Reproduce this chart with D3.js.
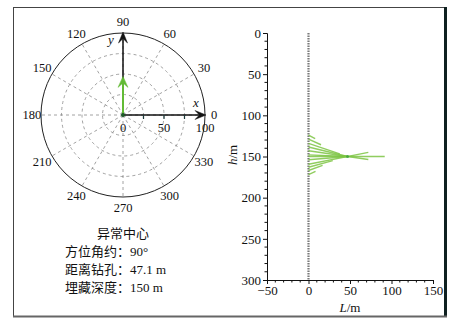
<!DOCTYPE html>
<html><head><meta charset="utf-8">
<script src="https://cdn.jsdelivr.net/npm/d3@7"></script>
<style>
html,body{margin:0;padding:0;background:#fff;}
svg{display:block;}
text{font-family:"Liberation Serif","Noto Sans CJK SC",serif;fill:#111;}
</style></head>
<body><svg id="c" width="468" height="330"></svg>
<script>
// ---- data ----
const angleLabels = [0,30,60,90,120,150,180,210,240,270,300,330];
const radialLabels = [0,50,100];
const radialTicks = [25,50,75];
const gridRadii = [25,50,75];
const anomalyAzimuth = 90;
const anomalyDistance = 47.1;
const anomalyDepth = 150;
const infoTitle = "异常中心";
const infoLines = ["方位角约：90°","距离钻孔：47.1 m","埋藏深度：150 m"];
const depthTicks = [0,50,100,150,200,250,300];
const lTicks = [-50,0,50,100,150];
const rayStartDepths = [124,129,134,138.5,143,148,150,154,159.4,163,167,172];
const rayReach =       [0.17,0.32,0.8,1.0,1.53,1.0,1.95,1.0,1.53,0.62,0.36,0.18];

const svg = d3.select("#c");
const fontSerif = '"Liberation Serif","Noto Sans CJK SC",serif';

// ---- frame ----
svg.append("rect").attr("x",13.5).attr("y",7.5).attr("width",432).attr("height",309)
  .attr("fill","none").attr("stroke","#444").attr("stroke-width",1);
svg.append("line").attr("x1",445.5).attr("x2",445.5).attr("y1",7).attr("y2",317)
  .attr("stroke","#0f2020").attr("stroke-width",3);
svg.append("line").attr("x1",13).attr("x2",447).attr("y1",316.5).attr("y2",316.5)
  .attr("stroke","#666").attr("stroke-width",2);

// ---- polar chart ----
const cx = 123, cy = 115;
const r = d3.scaleLinear().domain([0,100]).range([0,82]);
const pol = (deg, rad) => [cx + r(rad)*Math.cos(deg*Math.PI/180), cy - r(rad)*Math.sin(deg*Math.PI/180)];
const pg = svg.append("g");

pg.selectAll("circle.grid").data(gridRadii).join("circle")
  .attr("cx",cx).attr("cy",cy).attr("r",d=>r(d))
  .attr("fill","none").attr("stroke","#8a8a8a").attr("stroke-width",0.8).attr("stroke-dasharray","3,3");
pg.selectAll("line.spoke").data(angleLabels).join("line")
  .attr("x1",cx).attr("y1",cy)
  .attr("x2",d=>pol(d,100)[0]).attr("y2",d=>pol(d,100)[1])
  .attr("stroke","#8a8a8a").attr("stroke-width",0.8).attr("stroke-dasharray","3,3");
pg.append("circle").attr("cx",cx).attr("cy",cy).attr("r",r(100))
  .attr("fill","none").attr("stroke","#222").attr("stroke-width",1);

function arrowHead(g, x, y, dirDeg, len, wid, color){
  const a = dirDeg*Math.PI/180;
  const ux = Math.cos(a), uy = -Math.sin(a);
  const px = -uy, py = ux;
  const bx = x-ux*len, by = y-uy*len;
  const nx = x-ux*len*0.6, ny = y-uy*len*0.6;
  g.append("path").attr("d",
    `M${x},${y} L${bx+px*wid/2},${by+py*wid/2} L${nx},${ny} L${bx-px*wid/2},${by-py*wid/2} Z`)
    .attr("fill",color).attr("stroke",color).attr("stroke-width",0.5);
}
const xEnd = pol(0,100);
pg.append("line").attr("x1",cx).attr("y1",cy).attr("x2",xEnd[0]-4).attr("y2",xEnd[1])
  .attr("stroke","#111").attr("stroke-width",1.5);
arrowHead(pg, xEnd[0]+1, xEnd[1], 0, 11, 9, "#111");
const yEnd = pol(90,100);
pg.append("line").attr("x1",cx).attr("y1",cy).attr("x2",yEnd[0]).attr("y2",yEnd[1]+4)
  .attr("stroke","#111").attr("stroke-width",1.5);
arrowHead(pg, yEnd[0], yEnd[1]-1, 90, 11, 9, "#111");
pg.selectAll("line.rt").data(radialTicks).join("line")
  .attr("x1",d=>pol(0,d)[0]).attr("x2",d=>pol(0,d)[0])
  .attr("y1",cy).attr("y2",cy+4).attr("stroke","#1d3b3b").attr("stroke-width",1.2);
pg.append("text").attr("x",xEnd[0]-9).attr("y",cy-8).attr("font-style","italic").attr("font-size",13)
  .attr("text-anchor","middle").text("x");
pg.append("text").attr("x",cx-12).attr("y",yEnd[1]+11).attr("font-style","italic").attr("font-size",13)
  .attr("text-anchor","middle").text("y");
pg.selectAll("text.rl").data(radialLabels).join("text")
  .attr("x",d=>pol(0,d)[0]).attr("y",cy+17).attr("text-anchor","middle").attr("font-size",12.5).text(d=>d);
pg.selectAll("text.al").data(angleLabels).join("text")
  .attr("x",d=>pol(d,d%180===0?111:114)[0]).attr("y",d=>pol(d,d%180===0?111:114)[1])
  .attr("text-anchor","middle").attr("dominant-baseline","central").attr("font-size",12.5).text(d=>d);

const tip = pol(anomalyAzimuth, anomalyDistance);
pg.append("line").attr("x1",cx).attr("y1",cy).attr("x2",tip[0]).attr("y2",tip[1]+4)
  .attr("stroke","#62bb35").attr("stroke-width",2);
arrowHead(pg, tip[0], tip[1], anomalyAzimuth, 11, 10, "#62bb35");
pg.append("circle").attr("cx",cx).attr("cy",cy).attr("r",2).attr("fill","#1f5a2a");

svg.append("text").attr("x",123).attr("y",238).attr("text-anchor","middle").attr("font-size",13).text(infoTitle);
svg.selectAll("text.info").data(infoLines).join("text")
  .attr("x",65).attr("y",(d,i)=>256+i*18).attr("font-size",13).text(d=>d);

// ---- right chart ----
const xL = d3.scaleLinear().domain([-50,150]).range([267,433]);
const yH = d3.scaleLinear().domain([0,300]).range([33,280]);
const rg = svg.append("g");

rg.append("line").attr("x1",xL(0)).attr("x2",xL(0)).attr("y1",yH(0)).attr("y2",yH(300))
  .attr("stroke","#7a7a7a").attr("stroke-width",2.2).attr("stroke-dasharray","1.5,1");

const rays = rayStartDepths.map((h0,i)=>({h0, t: rayReach[i]}));
rg.selectAll("line.ray").data(rays).join("line")
  .attr("x1",xL(0)).attr("y1",d=>yH(d.h0))
  .attr("x2",d=>xL(d.t*anomalyDistance))
  .attr("y2",d=>yH(d.h0 + d.t*(anomalyDepth-d.h0)))
  .attr("stroke","#7cc443").attr("stroke-width",1.4).attr("stroke-opacity",0.85);
rg.append("circle").attr("cx",xL(anomalyDistance)).attr("cy",yH(anomalyDepth)).attr("r",1.5)
  .attr("fill","#3aa33a").attr("opacity",0.8);

const yAxis = d3.axisLeft(yH).tickValues(depthTicks).tickSize(4).tickPadding(2).tickFormat(d3.format("d"));
const gy = rg.append("g").attr("transform",`translate(${xL(-50)},0)`).call(yAxis);
gy.selectAll(".minor").data(d3.range(0,301,10).filter(v=>v%50)).join("line")
  .attr("x1",-2.5).attr("x2",0).attr("y1",d=>yH(d)).attr("y2",d=>yH(d)).attr("stroke","#111");
const xAxis = d3.axisBottom(xL).tickValues(lTicks).tickSize(4).tickPadding(2)
  .tickFormat(d=>d<0?"\u2212"+Math.abs(d):d);
const gx = rg.append("g").attr("transform",`translate(0,${yH(300)})`).call(xAxis);
gx.selectAll(".minor").data(d3.range(-50,151,10).filter(v=>v%50)).join("line")
  .attr("y1",0).attr("y2",2.5).attr("x1",d=>xL(d)).attr("x2",d=>xL(d)).attr("stroke","#111");
[gy,gx].forEach(g=>{
  g.select(".domain").attr("stroke","#111");
  g.selectAll(".tick line").attr("stroke","#111");
  g.selectAll(".tick text").attr("font-family",fontSerif).attr("font-size",13).attr("fill","#111");
});

const ht = svg.append("text").attr("transform","translate(237,155) rotate(-90)")
  .attr("text-anchor","middle").attr("font-size",13);
ht.append("tspan").attr("font-style","italic").text("h");
ht.append("tspan").text("/m");
const lt = svg.append("text").attr("x",350).attr("y",312).attr("text-anchor","middle").attr("font-size",13);
lt.append("tspan").attr("font-style","italic").text("L");
lt.append("tspan").text("/m");
</script></body></html>
